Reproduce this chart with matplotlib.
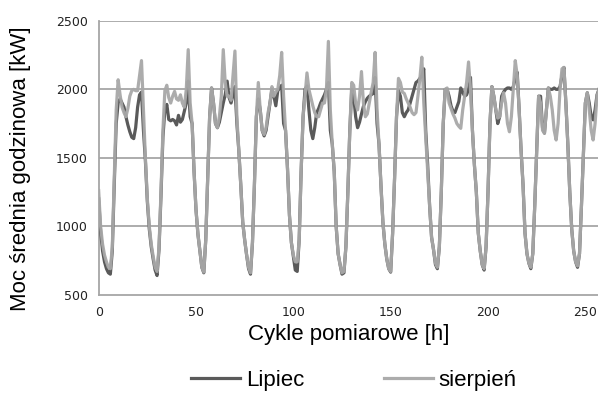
import numpy as np
import matplotlib
matplotlib.use("Agg")
import matplotlib.pyplot as plt

# hourly mean power [kW], one row per day (24 h)
lipiec = [
    1200, 960, 820, 740, 690, 660, 650, 820, 1300, 1750, 1900, 1930, 1900, 1870, 1800, 1740, 1690, 1650, 1640, 1720, 1870, 1960, 1980, 1700,
    1480, 1180, 980, 850, 760, 680, 640, 830, 1220, 1650, 1850, 1890, 1780, 1770, 1780, 1770, 1740, 1810, 1760, 1780, 1840, 1900, 2060, 1800,
    1750, 1400, 1120, 940, 820, 700, 660, 900, 1350, 1800, 2010, 1900, 1750, 1720, 1760, 1830, 1900, 1960, 2060, 1940, 1900, 1960, 2020, 1750,
    1550, 1300, 1030, 900, 790, 690, 650, 880, 1300, 1800, 1930, 1850, 1700, 1660, 1700, 1800, 1900, 2000, 1950, 1880, 1990, 2010, 2030, 1750,
    1700, 1420, 1080, 880, 780, 680, 670, 900, 1400, 1800, 2000, 2025, 1850, 1700, 1640, 1720, 1830, 1860, 1900, 1930, 1960, 2000, 2050, 1700,
    1600, 1400, 1000, 800, 720, 650, 660, 850, 1250, 1700, 2000, 1950, 1800, 1720, 1760, 1820, 1876, 1910, 1935, 1950, 1960, 1970, 2087, 1750,
    1600, 1300, 1030, 870, 760, 690, 665, 950, 1350, 1800, 1990, 1950, 1830, 1800, 1830, 1850, 1900, 1950, 2000, 2050, 2060, 2080, 2100, 2150,
    1700, 1450, 1150, 920, 830, 720, 690, 850, 1250, 1750, 2000, 2000, 1950, 1880, 1840, 1830, 1870, 1910, 2010, 1980, 1950, 1960, 2000, 2087,
    1700, 1450, 1250, 950, 820, 720, 680, 850, 1250, 1750, 2020, 1950, 1850, 1750, 1800, 1950, 1980, 2000, 2010, 2010, 2000, 2020, 2080, 2124,
    1850, 1550, 1300, 950, 800, 730, 690, 800, 1150, 1550, 1950, 1950, 1720, 1680, 1850, 2010, 2000, 2000, 2010, 2000, 2000, 2020, 2100, 2160,
    1900, 1600, 1250, 980, 820, 740, 700, 800, 1150, 1530, 1900, 1975, 1900, 1800, 1777, 1850, 1960, 2000,
]

sierpien = [
    1260, 1000, 870, 790, 740, 700, 690, 850, 1350, 1850, 2070, 1960, 1870, 1830, 1800, 1860, 1950, 1990, 2000, 1990, 1990, 2100, 2210, 1850,
    1500, 1200, 1000, 870, 780, 700, 670, 850, 1250, 1700, 1990, 2030, 1940, 1900, 1950, 1985, 1930, 1920, 1960, 1900, 1870, 2000, 2290, 1900,
    1750, 1400, 1120, 940, 820, 700, 665, 900, 1350, 1800, 2010, 1900, 1750, 1720, 1800, 1950, 2290, 2050, 1950, 1950, 1920, 2100, 2280, 1800,
    1550, 1300, 1030, 900, 790, 700, 660, 880, 1300, 1800, 2050, 1850, 1700, 1670, 1720, 1830, 1900, 2020, 1950, 1980, 2000, 2100, 2270, 1950,
    1700, 1420, 1080, 880, 790, 740, 740, 900, 1400, 1800, 1950, 2120, 2000, 1940, 1880, 1830, 1800, 1800, 1850, 1900, 1900, 2000, 2350, 1850,
    1600, 1400, 1000, 800, 720, 660, 670, 850, 1250, 1700, 2050, 2030, 1900, 1850, 1950, 2130, 1900, 1800, 1820, 1900, 1980, 2050, 2270, 1850,
    1600, 1300, 1030, 870, 760, 690, 670, 950, 1350, 1800, 2080, 2050, 1980, 1970, 1930, 1900, 1870, 1830, 1815, 1830, 1950, 2080, 2235, 1900,
    1650, 1400, 1150, 920, 830, 730, 700, 850, 1250, 1750, 2000, 2010, 1900, 1860, 1820, 1790, 1750, 1730, 1715, 1850, 1950, 2050, 2200, 2000,
    1700, 1450, 1250, 950, 820, 720, 690, 850, 1250, 1750, 2020, 1950, 1850, 1790, 1800, 1900, 1975, 1900, 1750, 1690, 1800, 2000, 2210, 2100,
    1850, 1550, 1300, 950, 800, 730, 700, 800, 1150, 1550, 1950, 1900, 1700, 1680, 1850, 2010, 1950, 1850, 1700, 1630, 1750, 2000, 2150, 2160,
    1900, 1600, 1250, 980, 820, 740, 710, 800, 1150, 1530, 1900, 1975, 1850, 1700, 1630, 1750, 1950, 2000,
]

x_ticks = [0, 50, 100, 150, 200, 250]
y_ticks = [500, 1000, 1500, 2000, 2500]

hours = np.arange(len(lipiec))

fig = plt.figure(figsize=(5.98, 3.94), dpi=100)
ax = fig.add_axes([0.165, 0.252, 0.835, 0.695])

grid_col = "#a6a6a6"
for v in y_ticks[1:]:
    ax.axhline(v, color=grid_col, lw=1.3, zorder=1)

ax.plot(hours, lipiec, color="#5a5a5a", lw=2.3, label="Lipiec", zorder=3,
        solid_joinstyle="round")
ax.plot(hours, sierpien, color="#a8a8a8", lw=2.3, label="sierpień", zorder=4,
        alpha=0.95, solid_joinstyle="round")

ax.set_xlim(0, 256.5)
ax.set_ylim(500, 2500)
ax.set_xticks(x_ticks)
ax.set_yticks(y_ticks)
ax.tick_params(length=0, labelsize=9, colors="#222222", pad=8)

for side in ["left", "bottom"]:
    ax.spines[side].set_color(grid_col)
    ax.spines[side].set_linewidth(1.3)
ax.spines["top"].set_visible(False)
ax.spines["right"].set_visible(False)

lab_font = {"family": "Liberation Sans", "size": 16}
ax.set_xlabel("Cykle pomiarowe [h]", fontdict=lab_font, labelpad=4)
ax.set_ylabel("Moc średnia godzinowa [kW]", fontdict=lab_font)
ax.yaxis.set_label_coords(-0.135, 0.46)

fig.legend(loc="center", bbox_to_anchor=(0.592, 0.035), ncol=2, frameon=False,
           prop={"family": "Liberation Sans", "size": 16}, handlelength=2.2,
           handletextpad=0.25, columnspacing=3.6)

fig.savefig("out.png", dpi=100)
